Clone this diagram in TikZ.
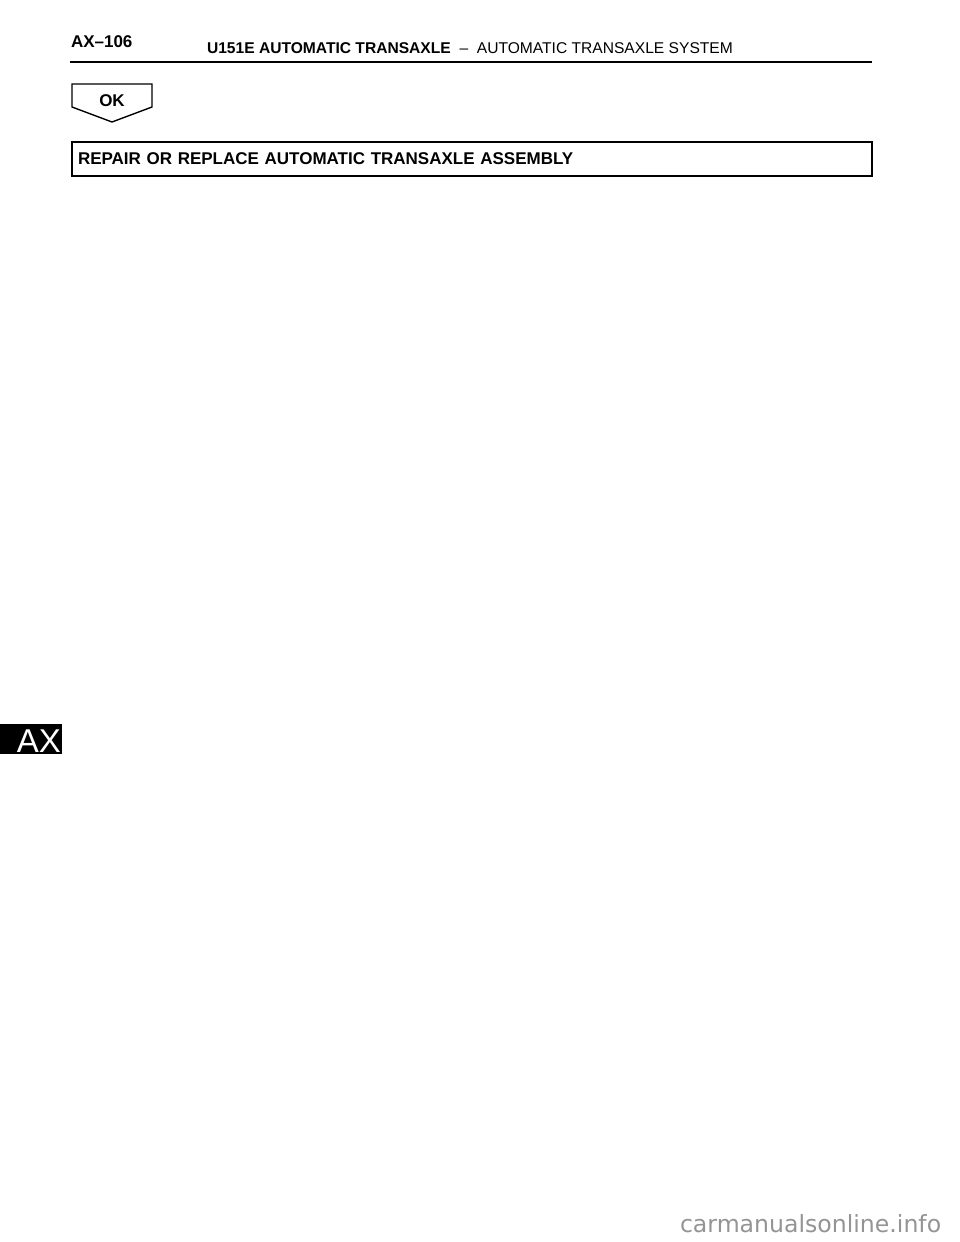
\documentclass[tikz,border=0pt]{standalone}
\usepackage{fontspec}
\setmainfont{Liberation Sans}
\newfontfamily\wmfont{DejaVu Sans}
\usetikzlibrary{positioning,calc}

\begin{document}
\begin{tikzpicture}[
    x=1pt, y=-1pt,
    line join=miter,
    every node/.style={inner sep=0pt, outer sep=0pt},
    pagefont/.style={font=\bfseries\fontsize{17}{17}\selectfont},
    titlefont/.style={font=\fontsize{15.6}{15.6}\selectfont},
    rule/.style={line width=2pt},
    okarrow/.style={draw, line width=1.4pt},
    stepbox/.style={draw, line width=2pt, minimum width=800pt, minimum height=34pt,
        text width=788pt, align=left, font=\bfseries\fontsize{17}{17}\selectfont},
    sectab/.style={fill=black, minimum width=62pt, minimum height=30pt},
    watermark/.style={text=black!42, font=\wmfont\fontsize{23.6}{23.6}\selectfont}
]
\useasboundingbox (0,0) rectangle (960,1242);

% Header
\node[pagefont, anchor=base west] (pageno) at (71,47) {AX–106};
\node[titlefont, anchor=base west] (title) at (207,53)
    {\textbf{U151E AUTOMATIC TRANSAXLE}\ \ –\ \ AUTOMATIC TRANSAXLE SYSTEM};
\coordinate (ruleL) at (70,62);
\coordinate (ruleR) at (872,62);
\draw[rule] (ruleL) -- (ruleR);

% OK arrow
\coordinate (okNW) at (72,84);
\draw[okarrow] (okNW) -- ++(80,0) -- ++(0,23) -- ++(-40,15) -- ++(-40,-15) -- cycle;
\node[pagefont, anchor=base] (ok) at (112,106) {OK};

% Step box
\node[stepbox, anchor=north west] (repair) at (72,142)
    {REPAIR OR REPLACE AUTOMATIC TRANSAXLE ASSEMBLY};

% Section tab
\node[sectab, anchor=north west] (tab) at (0,724) {};
\node[text=white, font=\fontsize{33}{33}\selectfont, anchor=base east] (tabtext) at (61,752) {AX};

% Watermark
\node[watermark, anchor=base west] (wm) at (680,1232) {carmanualsonline.info};

\end{tikzpicture}
\end{document}
